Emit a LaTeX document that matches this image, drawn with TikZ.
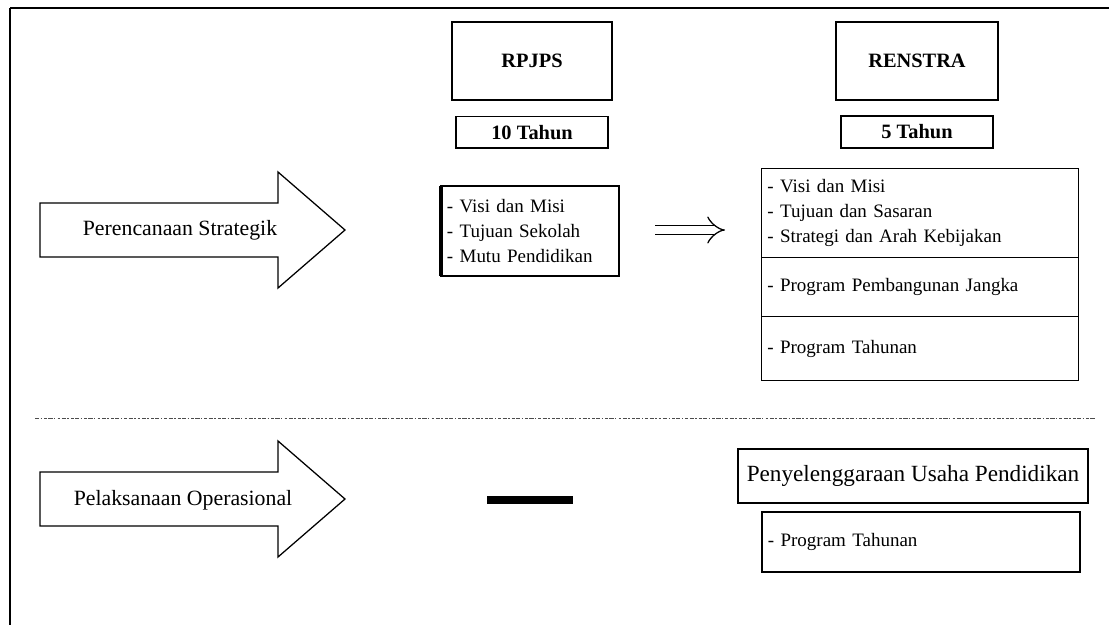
\documentclass[tikz,border=0pt]{standalone}
\usepackage{fontspec}
\setmainfont{Liberation Serif}
\usetikzlibrary{positioning,arrows.meta}

\begin{document}
\begin{tikzpicture}[x=0.025cm,y=-0.025cm,
    box/.style={draw,line width=0.9pt,inner sep=0pt,outer sep=0pt,font=\fontsize{13.5}{17.5}\selectfont},
    head/.style={box,font=\fontsize{14.5}{17}\selectfont\bfseries},
    list/.style={box,align=left,inner xsep=0.15cm,text width=#1},
    arrtext/.style={font=\fontsize{15.5}{18}\selectfont},
    sepline/.style={black!70,line width=0.7pt,dash pattern=on 3pt off 1pt on 1pt off 1.5pt on 2pt off 1pt},
    blockarrow/.pic={\draw[line width=0.9pt] (-140,-27) -- (98,-27) -- (98,-58) -- (165,0) -- (98,58) -- (98,27) -- (-140,27) -- cycle;}]
    \useasboundingbox (0,0) rectangle (1109,625);
    % frame
    \draw[line width=1.2pt] (10,8) -- (1109,8);
    \draw[line width=1.2pt] (10,8) -- (10,625);

    % strategic planning row
    \pic at (180,230) {blockarrow};
    \node[arrtext] (plan) at (180,230) {Perencanaan Strategik};
    \node[head,minimum width=4cm,minimum height=1.95cm] (rpjp) at (532,61) {RPJPS};
    \node[head,minimum width=3.8cm,minimum height=0.78cm,below=0.42cm of rpjp] (rpjpyr) {10 Tahun};
    \node[head,minimum width=4.05cm,minimum height=1.95cm] (renstra) at (917,61) {RENSTRA};
    \node[head,minimum width=3.8cm,minimum height=0.8cm,below=0.4cm of renstra] (renstrayr) {5 Tahun};
    \node[list=4.15cm,minimum height=2.25cm] (mid) at (530,231) {- Visi dan Misi\\- Tujuan Sekolah\\- Mutu Pendidikan};
    \draw[line width=3pt] (mid.north west) -- (mid.south west);
    \node[list=7.625cm,minimum height=2.225cm] (sec1) at (920,213) {- Visi dan Misi\\- Tujuan dan Sasaran\\- Strategi dan Arah Kebijakan};
    \node[list=7.625cm,minimum height=1.475cm,below=0pt of sec1] (sec2) {- Program Pembangunan Jangka};
    \node[list=7.625cm,minimum height=1.6cm,below=0pt of sec2] (sec3) {- Program Tahunan};
    \coordinate (d1) at (655,230);
    \coordinate (d2) at (725,230);
    \draw[double,double distance=6pt,line width=0.9pt,-{Implies}] (d1) -- (d2);

    % separator
    \coordinate (sepL) at (35,418);
    \coordinate (sepR) at (1095,418);
    \draw[sepline] (sepL) -- (sepR);

    % operational row
    \pic at (180,499) {blockarrow};
    \node[arrtext] (ops) at (183,500) {Pelaksanaan Operasional};
    \coordinate (dashL) at (487,500);
    \coordinate (dashR) at (573,500);
    \draw[line width=5pt] (dashL) -- (dashR);
    \node[box,font=\fontsize{16.5}{19}\selectfont,minimum width=8.75cm,minimum height=1.35cm] (usaha) at (913,476) {Penyelenggaraan Usaha Pendidikan};
    \node[list=7.65cm,minimum height=1.5cm,below=0.225cm of usaha,xshift=0.2cm] (prog) {- Program Tahunan};
  \end{tikzpicture}
\end{document}
